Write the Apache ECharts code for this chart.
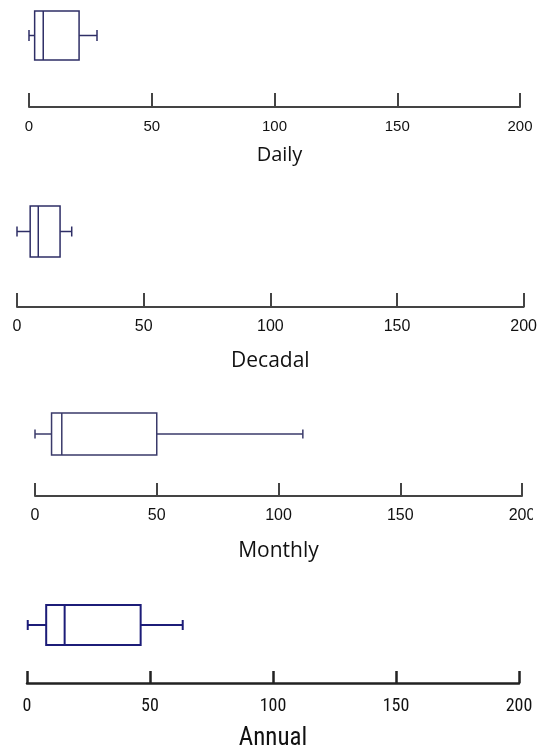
<!DOCTYPE html>
<html>
<head>
<meta charset="utf-8">
<script src="https://cdn.jsdelivr.net/npm/echarts@6/dist/echarts.min.js"></script>
<style>
html,body{margin:0;padding:0;background:#fff;}
#chart{width:540px;height:752px;}
</style>
</head>
<body>
<div id="chart"></div>
<script>
// Data: [min, Q1, median, Q3, max]
const categories = ['Daily', 'Decadal', 'Monthly', 'Annual'];
const dailyStats = [0, 2.3, 5.8, 20.4, 27.7];
const decadalStats = [0, 5.2, 8.4, 17.0, 21.6];
const monthlyStats = [0, 6.8, 11.0, 50.0, 110.0];
const annualStats = [0.3, 7.8, 15.3, 46.2, 63.3];
const tickMin = 0, tickMax = 200, tickStep = 50;

const statsList = [dailyStats, decadalStats, monthlyStats, annualStats];

const narrow = "'Liberation Sans Narrow', 'Roboto Condensed', 'Arial Narrow', 'Liberation Sans', sans-serif";

// Layout/styles per panel
const panels = [
  {left: 29, right: 520, axisY: 107, boxTop: 11, boxH: 49, capH: 11, stroke: '#2e2e66', lw: 1.5, axisColor: '#444', axisW: 2,
   labelFont: 'Liberation Sans', labelSize: 15, labelMargin: 12, nameFont: 'Open Sans', nameSize: 20, nameGap: 38, namePad: [0, 0, 0, 10], tickLen: 14},
  {left: 17, right: 524, axisY: 307, boxTop: 206, boxH: 51, capH: 10, stroke: '#2e2e66', lw: 1.5, axisColor: '#444', axisW: 2,
   labelFont: 'Liberation Sans', labelSize: 16, labelMargin: 12, nameFont: 'Open Sans', nameSize: 21, nameGap: 44, namePad: [0, 0, 0, 0], tickLen: 14},
  {left: 35, right: 522, axisY: 496, boxTop: 413, boxH: 42, capH: 9, stroke: '#3a3a6a', lw: 1.5, axisColor: '#444', axisW: 2,
   labelFont: 'Liberation Sans', labelSize: 16, labelMargin: 12, nameFont: 'Open Sans', nameSize: 21, nameGap: 45, namePad: [0, 0, 0, 0], tickLen: 13},
  {left: 27, right: 519, axisY: 684, boxTop: 605, boxH: 40, capH: 10, stroke: '#1c1c78', lw: 2, axisColor: '#222', axisW: 2.5,
   labelFont: narrow, labelSize: 18, labelMargin: 14, nameFont: narrow, nameSize: 25, nameGap: 43, namePad: [0, 0, 0, 0], tickLen: 12}
];

const grids = [], xAxes = [], yAxes = [], series = [];

panels.forEach((p, i) => {
  grids.push({left: p.left, width: p.right - p.left, top: p.boxTop, height: p.axisY - p.boxTop, containLabel: false});
  xAxes.push({
    type: 'value', gridIndex: i, min: tickMin, max: tickMax, interval: tickStep,
    position: 'bottom',
    name: categories[i], nameLocation: 'middle', nameGap: p.nameGap,
    nameTextStyle: {fontFamily: p.nameFont, fontSize: p.nameSize, color: '#111', padding: p.namePad},
    axisLine: {show: true, lineStyle: {color: p.axisColor, width: p.axisW}},
    axisTick: {show: true, inside: true, length: p.tickLen, lineStyle: {color: p.axisColor, width: p.axisW}},
    axisLabel: {show: true, margin: p.labelMargin, fontFamily: p.labelFont, fontSize: p.labelSize, color: '#111'},
    splitLine: {show: false}
  });
  yAxes.push({type: 'value', gridIndex: i, min: 0, max: 1, show: false});
  series.push({
    type: 'custom', xAxisIndex: i, yAxisIndex: i, clip: false, silent: true,
    dimensions: ['min', 'q1', 'median', 'q3', 'max'],
    encode: {x: [0, 1, 2, 3, 4]},
    data: [statsList[i]],
    renderItem: function (params, api) {
      const cs = params.coordSys;
      const xs = [0, 1, 2, 3, 4].map(k => api.coord([api.value(k), 0])[0]);
      const top = cs.y, h = p.boxH, cy = top + h / 2, ch = p.capH / 2;
      const st = {stroke: p.stroke, lineWidth: p.lw, fill: null};
      return {
        type: 'group',
        children: [
          {type: 'line', shape: {x1: xs[0], y1: cy, x2: xs[1], y2: cy}, style: st},
          {type: 'line', shape: {x1: xs[3], y1: cy, x2: xs[4], y2: cy}, style: st},
          {type: 'line', shape: {x1: xs[0], y1: cy - ch, x2: xs[0], y2: cy + ch}, style: st},
          {type: 'line', shape: {x1: xs[4], y1: cy - ch, x2: xs[4], y2: cy + ch}, style: st},
          {type: 'rect', shape: {x: xs[1], y: top, width: xs[3] - xs[1], height: h}, style: {stroke: p.stroke, lineWidth: p.lw, fill: '#ffffff'}},
          {type: 'line', shape: {x1: xs[2], y1: top, x2: xs[2], y2: top + h}, style: st}
        ]
      };
    }
  });
});

const chart = echarts.init(document.getElementById('chart'), null, {renderer: 'canvas'});
chart.setOption({
  backgroundColor: '#ffffff',
  animation: false,
  grid: grids,
  xAxis: xAxes,
  yAxis: yAxes,
  series: series,
  graphic: [
    {type: 'rect', z: 100, shape: {x: 533, y: 505, width: 7, height: 22}, style: {fill: '#ffffff'}}
  ]
});
</script>
</body>
</html>
